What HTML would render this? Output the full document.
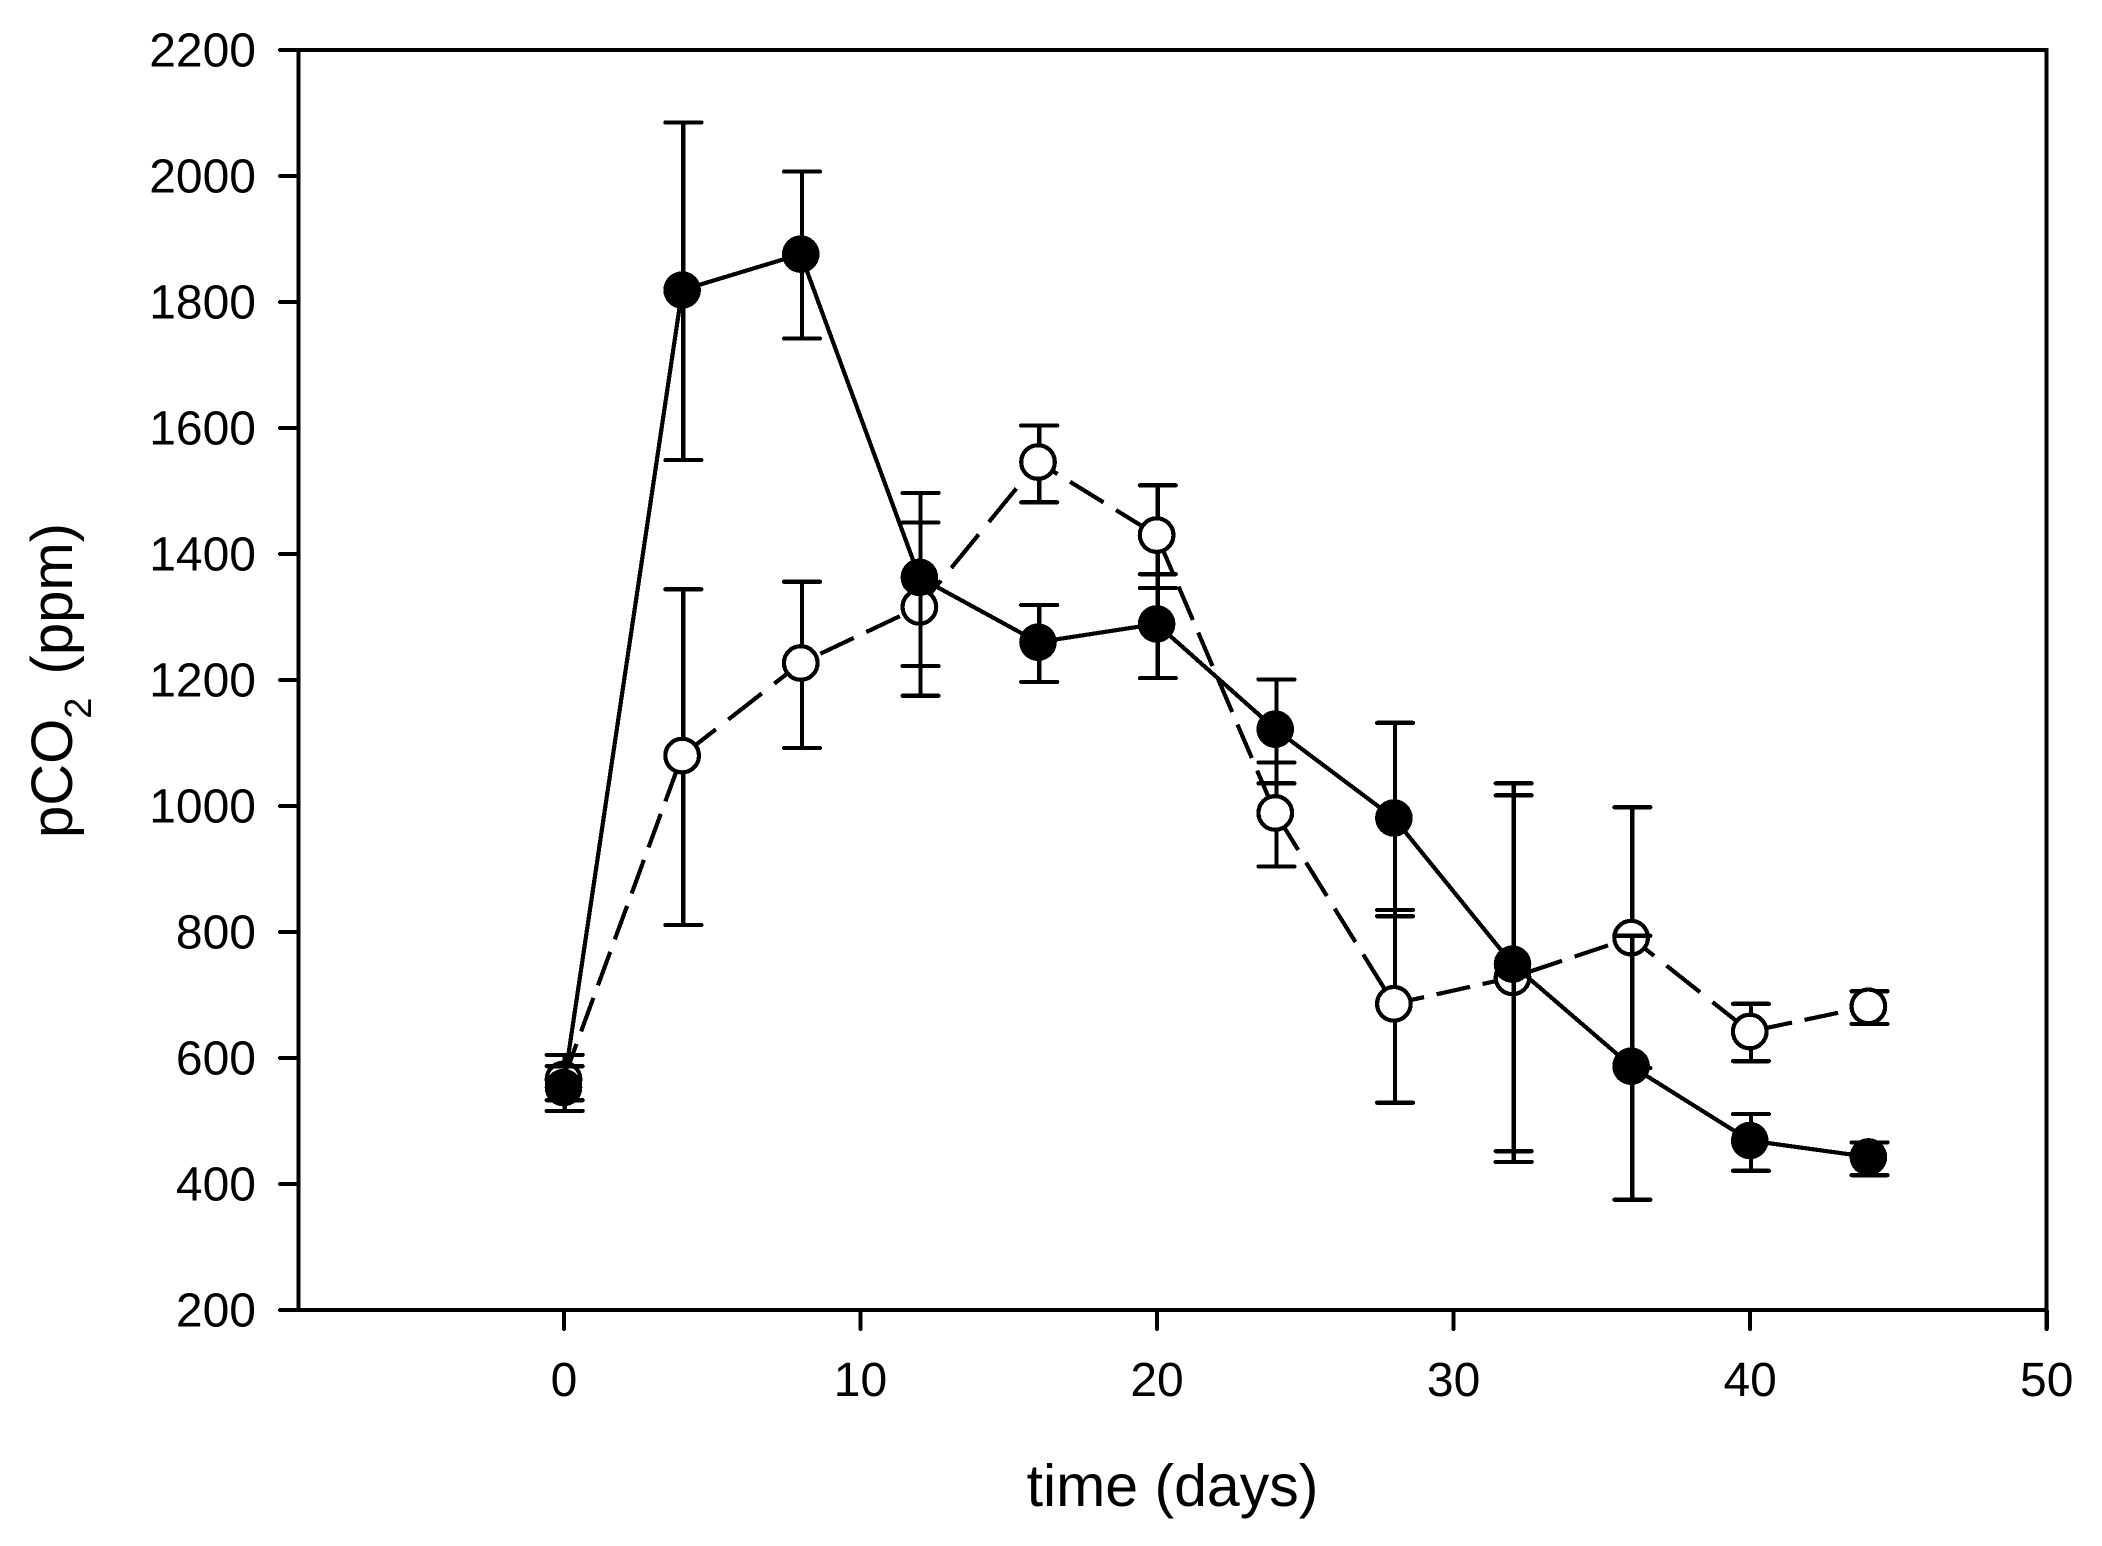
<!DOCTYPE html>
<html>
<head>
<meta charset="utf-8">
<title>pCO2 over time</title>
<style>
html,body{margin:0;padding:0;background:#fff;}
svg{display:block;}
text{font-family:"Liberation Sans",Arial,sans-serif;fill:#000;}
line,polyline,circle,rect{shape-rendering:crispEdges;}
</style>
</head>
<body>
<svg id="chart" xmlns="http://www.w3.org/2000/svg" width="2102" height="1546" viewBox="0 0 2102 1546">
<rect x="0" y="0" width="2102" height="1546" fill="#fff"/>
<text x="1172.5" y="1506" font-size="59" text-anchor="middle">time (days)</text>
<text transform="translate(72,838) rotate(-90)" font-size="58">pCO<tspan font-size="38" dy="19">2</tspan><tspan dy="-19" dx="7"> (ppm)</tspan></text>
</svg>
<script>
const days = [0, 4, 8, 12, 16, 20, 24, 28, 32, 36, 40, 44];
const filledMean = [553, 1819, 1876, 1363, 1260, 1289, 1122, 981, 749, 587, 469, 443];
const filledUpper = [587, 2085, 2007, 1497, 1319, 1368, 1201, 1132, 1036, 794, 511, 466];
const filledLower = [516, 1549, 1742, 1222, 1197, 1203, 1036, 825, 452, 375, 421, 414];
const openMean = [566, 1080, 1227, 1316, 1546, 1430, 989, 686, 728, 791, 642, 682];
const openUpper = [605, 1344, 1356, 1450, 1604, 1509, 1069, 835, 1017, 998, 686, 706];
const openLower = [533, 811, 1092, 1175, 1482, 1346, 904, 529, 435, 584, 595, 654];
const xTickValues = [0, 10, 20, 30, 40, 50];
const yTickValues = [200, 400, 600, 800, 1000, 1200, 1400, 1600, 1800, 2000, 2200];

const svg = document.getElementById('chart');
const NS = 'http://www.w3.org/2000/svg';
const plot = {left: 298.5, right: 2046.7, top: 50, bottom: 1310};
const xDomain = [-8.95, 50];
const yDomain = [200, 2200];
const STROKE = 4.2;

function xScale(v) {
  return plot.left + (v - xDomain[0]) / (xDomain[1] - xDomain[0]) * (plot.right - plot.left);
}
function yScale(v) {
  return plot.bottom - (v - yDomain[0]) / (yDomain[1] - yDomain[0]) * (plot.bottom - plot.top);
}
function make(tag, attrs, parent) {
  const el = document.createElementNS(NS, tag);
  for (const k in attrs) el.setAttribute(k, attrs[k]);
  (parent || svg).appendChild(el);
  return el;
}
function drawLine(x1, y1, x2, y2, parent, cap) {
  return make('line', {x1: x1, y1: y1, x2: x2, y2: y2, stroke: '#000', 'stroke-width': STROKE, 'stroke-linecap': cap || 'butt'}, parent);
}

function drawAxes() {
  const frame = make('rect', {x: plot.left, y: plot.top, width: plot.right - plot.left, height: plot.bottom - plot.top, fill: 'none', stroke: '#000', 'stroke-width': 4});
  
  

  yTickValues.forEach(function (v) {
    const y = yScale(v);
    const tick = drawLine(plot.left, y, 280, y, svg, 'round');
    
    
    const label = make('text', {x: 256, y: y + 16.7, 'font-size': 48, 'text-anchor': 'end'});
    label.textContent = String(v);
    
    
  });

  xTickValues.forEach(function (v) {
    const x = xScale(v);
    const tick = drawLine(x, plot.bottom, x, plot.bottom + 19, svg, 'round');
    
    
    const label = make('text', {x: x, y: 1396, 'font-size': 48, 'text-anchor': 'middle'});
    label.textContent = String(v);
    
    
  });
}

/* The source renderer measures its dash pattern along the dominant axis of each
   segment, so dashes get longer on diagonals. Reproduce that per segment. */
const DASH_ON = 33.5;
const DASH_OFF = 12.5;
const DASH_PHASE = -2;
function drawDashedLine(means, group) {
  let travelled = DASH_PHASE;
  for (let i = 0; i < days.length - 1; i++) {
    const x1 = xScale(days[i]) - 0.4, y1 = yScale(means[i]);
    const x2 = xScale(days[i + 1]) - 0.4, y2 = yScale(means[i + 1]);
    const dx = x2 - x1, dy = y2 - y1;
    const euclid = Math.sqrt(dx * dx + dy * dy);
    const cheb = Math.max(Math.abs(dx), Math.abs(dy));
    const k = euclid / cheb;
    const seg = drawLine(x1, y1, x2, y2, group);
    seg.setAttribute('stroke-dasharray', (DASH_ON * k) + ' ' + (DASH_OFF * k));
    seg.setAttribute('stroke-dashoffset', travelled * k);
    
    
    travelled += cheb;
  }
}

function drawSeries(prefix, means, upper, lower, filled) {
  const group = make('g', {});
  
  

  if (filled) {
    const pts = days.map(function (d, i) {
      return (xScale(d) - 0.4) + ',' + yScale(means[i]);
    }).join(' ');
    const line = make('polyline', {points: pts, fill: 'none', stroke: '#000', 'stroke-width': STROKE, 'stroke-linejoin': 'round'}, group);
    
    
  } else {
    drawDashedLine(means, group);
  }

  days.forEach(function (d, i) {
    const x = xScale(d) + 0.8;
    const stem = drawLine(x, yScale(upper[i]), x, yScale(lower[i]), group);
    
    
    const capTop = drawLine(x - 18, yScale(upper[i]), x + 18, yScale(upper[i]), group, 'round');
    
    
    const capBottom = drawLine(x - 18, yScale(lower[i]), x + 18, yScale(lower[i]), group, 'round');
    
    
  });

  days.forEach(function (d, i) {
    const marker = make('circle', {
      cx: xScale(d) - 0.4,
      cy: yScale(means[i]),
      r: filled ? 18.8 : 16.8,
      fill: filled ? '#000' : '#fff',
      stroke: filled ? 'none' : '#000',
      'stroke-width': filled ? 0 : STROKE
    }, group);
    
    
  });
}

drawAxes();
drawSeries('open', openMean, openUpper, openLower, false);
drawSeries('filled', filledMean, filledUpper, filledLower, true);
</script>
</body>
</html>
